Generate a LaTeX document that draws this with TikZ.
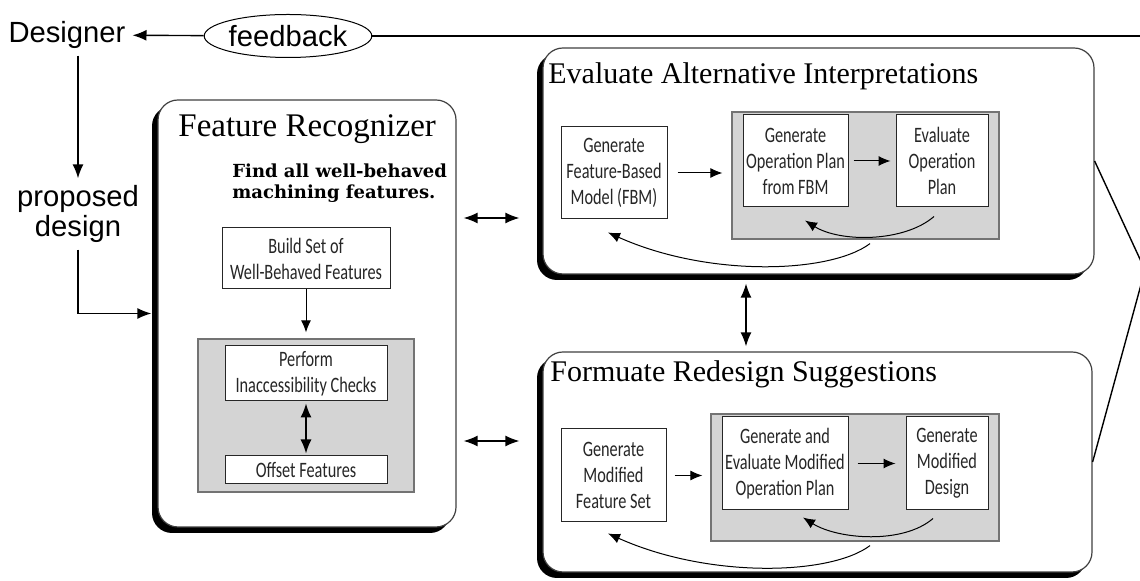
\documentclass[tikz,border=0pt]{standalone}
\usepackage{fontspec}
\setmainfont{Liberation Serif}
\setsansfont{Liberation Sans}
\newfontfamily\boxfont[FakeStretch=0.74]{Carlito}
\newfontfamily\notefont{DejaVu Serif}
\usetikzlibrary{arrows.meta,shapes.geometric,shadows}
\tikzset{panel/.style={draw=black!75, fill=white, line width=0.6pt, rounded corners=10pt,
    drop shadow={shadow xshift=-3pt, shadow yshift=-3pt, opacity=1, fill=black}}}
\tikzset{greybox/.style={draw=black!55, fill=black!17, line width=0.6pt}}
\tikzset{stepbox/.style={draw=black!85, fill=white, line width=0.5pt, align=center, inner sep=1pt,
    text=black!85, font={\fontsize{11}{13}\boxfont}}}
\tikzset{paneltitle/.style={anchor=base west, inner sep=0pt, font={\fontsize{15}{18}\selectfont}}}
\tikzset{sanstext/.style={align=center, font={\sffamily\fontsize{14.6}{15}\selectfont}}}
\tikzset{arr/.style={-{Latex[length=7pt,width=5.5pt]}, line width=0.7pt}}
\tikzset{dbl/.style={{Latex[length=7pt,width=5.5pt]}-{Latex[length=7pt,width=5.5pt]}, line width=0.7pt}}
\tikzset{inarr/.style={-{Latex[length=6pt,width=5pt]}, line width=0.5pt}}

\begin{document}
\begin{tikzpicture}[x=0.5pt, y=-0.5pt]
    \useasboundingbox (0, 0) rectangle (1140, 581);
    \clip (0, 0) rectangle (1140, 581);

    \node (des) at (67, 35) [sanstext] {Designer};
    \node (fb) at (288, 36) [ellipse, draw, line width=0.5pt, minimum width=83.5pt,
        minimum height=21.5pt, inner sep=0pt, sanstext] {feedback};
    \node (prop) at (78, 214) [sanstext] {proposed\\design};
    \coordinate (jn) at (1145, 270);

    % the three panels
    \node (fr) at (307, 313.5) [panel, minimum width=149pt, minimum height=213.5pt] {};
    \node (ev) at (818.5, 161) [panel, minimum width=275.5pt, minimum height=113pt] {};
    \node (fo) at (817.5, 462) [panel, minimum width=274.5pt, minimum height=110pt] {};

    \node (frt) at (178, 137) [paneltitle, font={\fontsize{16.5}{20}\selectfont}] {Feature Recognizer};
    \node (evt) at (548, 84) [paneltitle] {Evaluate Alternative Interpretations};
    \node (fot) at (550, 382) [paneltitle] {Formuate Redesign Suggestions};
    \node (find) at (232, 163) [anchor=north west, inner sep=0pt, align=left,
        font={\fontsize{9}{10.5}\notefont\bfseries}] {Find all well-behaved\\machining features.};

    \node (build) at (306, 258.5) [stepbox, minimum width=84pt, minimum height=30.5pt] {Build Set of\\Well-Behaved Features};
    \node (frg) at (306, 415.5) [greybox, minimum width=108pt, minimum height=76.5pt] {};
    \node (perf) at (306, 373.5) [stepbox, minimum width=81pt, minimum height=27.5pt] {Perform\\Inaccessibility Checks};
    \node (offs) at (306, 470) [stepbox, minimum width=81pt, minimum height=14pt] {Offset Features};

    \node (fbm) at (614, 173) [stepbox, minimum width=53pt, minimum height=46pt] {Generate\\Feature-Based\\Model (FBM)};
    \node (evg) at (865.5, 175.5) [greybox, minimum width=133.5pt, minimum height=63.5pt] {};
    \node (gop) at (795.5, 161) [stepbox, minimum width=52.5pt, minimum height=46pt] {Generate\\Operation Plan\\from FBM};
    \node (eop) at (942, 161) [stepbox, minimum width=46pt, minimum height=46pt] {Evaluate\\Operation\\Plan};

    \node (gmf) at (613.5, 475.5) [stepbox, minimum width=52.5pt, minimum height=46.5pt] {Generate\\Modified\\Feature Set};
    \node (fog) at (855, 477.5) [greybox, minimum width=144pt, minimum height=63.5pt] {};
    \node (gem) at (785, 463.5) [stepbox, minimum width=63pt, minimum height=46.5pt] {Generate and\\Evaluate Modified\\Operation Plan};
    \node (gmd) at (947, 463.5) [stepbox, minimum width=41pt, minimum height=46.5pt] {Generate\\Modified\\Design};

    % outer connectors
    \draw[arr] (fb) -- (des);
    \draw[arr] (des.south -| prop.north) -- (prop);
    \draw[arr, shorten >=3pt] (prop) |- (fr.west);
    \draw[line width=0.7pt] (fb) -| (jn);
    \draw[line width=0.7pt] (ev.east) -- (jn) -- (fo.east);
    \draw[dbl, shorten <=3.5pt, shorten >=11.5pt] (fr.east |- 0, 218) -- (ev.west |- 0, 218);
    \draw[dbl, shorten <=3.5pt, shorten >=11.5pt] (fr.east |- 0, 441) -- (fo.west |- 0, 441);
    \draw[dbl, shorten <=4.5pt, shorten >=2.5pt] (ev.south -| 746, 0) -- (fo.north -| 746, 0);

    % inside the panels
    \draw[inarr, shorten >=3pt] (build) -- (frg);
    \draw[dbl, shorten <=1pt, shorten >=1pt] (perf) -- (offs);
    \draw[inarr, shorten <=5pt, shorten >=4.5pt] (fbm) -- (fbm -| evg.west);
    \draw[inarr, shorten <=2.5pt, shorten >=2.5pt] (gop) -- (eop);
    \draw[inarr, shorten <=4pt, shorten >=4pt] (gmf) -- (gmf -| fog.west);
    \draw[inarr, shorten <=4.5pt, shorten >=5pt] (gem) -- (gmd);

    \draw[inarr] ([shift={(-8, 9)}]eop.south) .. controls +(-30, 26) and +(35, 22) .. ([shift={(9.5, 13)}]gop.south);
    \draw[inarr] ([shift={(4.5, 4)}]evg.south) .. controls +(-40, 30) and +(100, 45) .. ([shift={(-6, 13)}]fbm.south);
    \draw[inarr] ([shift={(-14, 8)}]gmd.south) .. controls +(-30, 26) and +(35, 22) .. ([shift={(18, 7)}]gem.south);
    \draw[inarr] ([shift={(15, 4)}]fog.south) .. controls +(-40, 30) and +(100, 45) .. ([shift={(-5.5, 11)}]gmf.south);
\end{tikzpicture}
\end{document}
